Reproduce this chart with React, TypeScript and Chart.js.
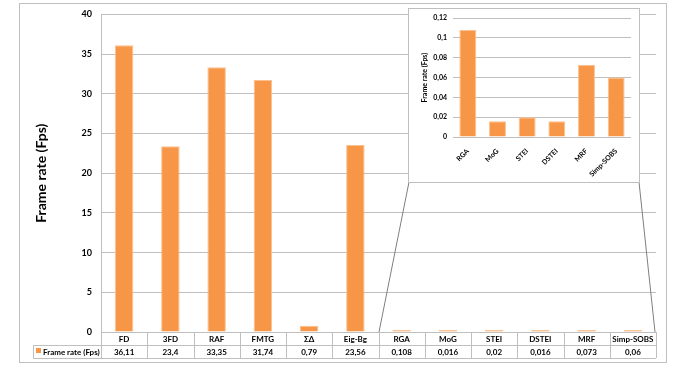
import React, { useEffect, useRef } from "react";
import { Chart, registerables } from "chart.js";

Chart.register(...registerables);

const categories = ["FD", "3FD", "RAF", "FMTG", "ΣΔ", "Eig-Bg", "RGA", "MoG", "STEI", "DSTEI", "MRF", "Simp-SOBS"];
const frameRates = [36.11, 23.4, 33.35, 31.74, 0.79, 23.56, 0.108, 0.016, 0.02, 0.016, 0.073, 0.06];
const insetCategories = ["RGA", "MoG", "STEI", "DSTEI", "MRF", "Simp-SOBS"];
const insetFrameRates = [0.108, 0.016, 0.02, 0.016, 0.073, 0.06];
const seriesLabel = "Frame rate (Fps)";

const FONT = "Lato, 'Open Sans', sans-serif";
const ORANGE = "#F79646";
const ORANGE_EDGE = "#FAC08F";
const GRID = "#BFBFBF";

const fmt = (v: number) => String(v).replace(".", ",");

export default function App() {
  const mainRef = useRef<HTMLCanvasElement | null>(null);
  const insetRef = useRef<HTMLCanvasElement | null>(null);

  useEffect(() => {
    const extras = {
      id: "extras",
      afterDraw(chart: any) {
        const ctx = chart.ctx as CanvasRenderingContext2D;
        const x = chart.scales.x;
        const area = chart.chartArea;
        const n = categories.length;
        const left = area.left;
        const right = area.right;
        const colW = (right - left) / n;
        const y0 = Math.round(area.bottom);
        const y1 = y0 + 13;
        const y2 = y1 + 13;
        const legendLeft = 33;
        ctx.save();
        // outer border
        ctx.strokeStyle = "#BFBFBF";
        ctx.lineWidth = 1;
        ctx.strokeRect(19.5, 3.5, 647, 359);
        // table lines
        ctx.strokeStyle = GRID;
        ctx.beginPath();
        ctx.moveTo(left, y0 + 0.5);
        ctx.lineTo(right, y0 + 0.5);
        ctx.moveTo(legendLeft, y1 + 0.5);
        ctx.lineTo(right, y1 + 0.5);
        ctx.moveTo(legendLeft, y2 + 0.5);
        ctx.lineTo(right, y2 + 0.5);
        ctx.moveTo(legendLeft + 0.5, y1);
        ctx.lineTo(legendLeft + 0.5, y2);
        for (let i = 0; i <= n; i++) {
          const xx = Math.round(left + i * colW) + 0.5;
          ctx.moveTo(xx, y0);
          ctx.lineTo(xx, y2);
        }
        ctx.stroke();
        // texts
        ctx.fillStyle = "#000";
        ctx.font = `bold 8px ${FONT}`;
        ctx.textAlign = "center";
        ctx.textBaseline = "middle";
        categories.forEach((c, i) => {
          const cx = x.getPixelForValue(i);
          ctx.fillText(c, cx, (y0 + y1) / 2 + 1);
          ctx.fillText(fmt(frameRates[i]), cx, (y1 + y2) / 2 + 1);
        });
        // legend
        ctx.fillStyle = ORANGE;
        ctx.fillRect(36, y1 + 3, 5, 5);
        ctx.fillStyle = "#000";
        ctx.textAlign = "left";
        ctx.fillText(seriesLabel, 43, (y1 + y2) / 2 + 1);
        // connector lines to inset
        ctx.strokeStyle = "#7F7F7F";
        ctx.beginPath();
        ctx.moveTo(409, 182);
        ctx.lineTo(379, y0);
        ctx.moveTo(639, 182);
        ctx.lineTo(655, y0);
        ctx.stroke();
        ctx.restore();
      },
    };

    const main = new Chart(mainRef.current as HTMLCanvasElement, {
      type: "bar",
      data: {
        labels: categories,
        datasets: [
          {
            label: seriesLabel,
            data: frameRates,
            backgroundColor: ORANGE,
            borderColor: ORANGE_EDGE,
            borderWidth: 1,
            borderSkipped: "bottom",
            minBarLength: 2,
            categoryPercentage: 1,
            barPercentage: 0.4,
          },
        ],
      },
      options: {
        animation: false,
        responsive: false,
        devicePixelRatio: 1,
        layout: { padding: { left: 0, top: 13, right: 23, bottom: 38 } },
        plugins: { legend: { display: false }, tooltip: { enabled: false } },
        scales: {
          x: { display: false },
          y: {
            min: 0,
            max: 40,
            ticks: { stepSize: 5, padding: 9, color: "#000", font: { family: FONT, size: 9, weight: "bold" } },
            grid: { color: GRID, drawTicks: false },
            border: { color: GRID },
            title: {
              display: true,
              text: seriesLabel,
              color: "#000",
              font: { family: FONT, size: 14, weight: "bold" },
              padding: { top: 33, bottom: 0 },
            },
            afterFit: (s: any) => {
              s.width = 101;
            },
          },
        },
      },
      plugins: [extras],
    } as any);

    const insetFrame = {
      id: "insetFrame",
      beforeDraw(chart: any) {
        const ctx = chart.ctx as CanvasRenderingContext2D;
        ctx.save();
        ctx.fillStyle = "#fff";
        ctx.fillRect(0, 0, chart.width, chart.height);
        ctx.strokeStyle = "#BFBFBF";
        ctx.lineWidth = 1;
        ctx.strokeRect(0.5, 0.5, chart.width - 1, chart.height - 1);
        ctx.restore();
      },
    };

    const inset = new Chart(insetRef.current as HTMLCanvasElement, {
      type: "bar",
      data: {
        labels: insetCategories,
        datasets: [
          {
            label: seriesLabel,
            data: insetFrameRates,
            backgroundColor: ORANGE,
            borderColor: ORANGE_EDGE,
            borderWidth: 1,
            borderSkipped: "bottom",
            categoryPercentage: 1,
            barPercentage: 0.57,
          },
        ],
      },
      options: {
        animation: false,
        responsive: false,
        devicePixelRatio: 1,
        layout: { padding: { left: 0, top: 9, right: 9, bottom: 0 } },
        plugins: { legend: { display: false }, tooltip: { enabled: false } },
        scales: {
          x: {
            grid: { display: false },
            border: { display: false },
            ticks: {
              minRotation: 45,
              maxRotation: 45,
              padding: 2,
              color: "#000",
              font: { family: FONT, size: 7, weight: "bold" },
            },
            afterFit: (s: any) => {
              s.height = 46;
            },
          },
          y: {
            min: 0,
            max: 0.12,
            ticks: {
              stepSize: 0.02,
              padding: 6,
              color: "#000",
              font: { family: FONT, size: 7, weight: "bold" },
              callback: (v: any) => fmt(Math.round(Number(v) * 100) / 100),
            },
            grid: { color: GRID, drawTicks: false },
            border: { display: false },
            title: {
              display: true,
              text: seriesLabel,
              color: "#000",
              font: { family: FONT, size: 7, weight: "bold" },
              padding: { top: 13, bottom: 0 },
            },
            afterFit: (s: any) => {
              s.width = 45;
            },
          },
        },
      },
      plugins: [insetFrame],
    } as any);

    return () => {
      main.destroy();
      inset.destroy();
    };
  }, []);

  return (
    <div style={{ position: "absolute", left: 0, top: 0, width: 679, height: 370, background: "#fff" }}>
      <canvas ref={mainRef} width={679} height={370} style={{ position: "absolute", left: 0, top: 0, width: 679, height: 370 }} />
      <canvas ref={insetRef} width={232} height={175} style={{ position: "absolute", left: 408, top: 8, width: 232, height: 175 }} />
    </div>
  );
}
